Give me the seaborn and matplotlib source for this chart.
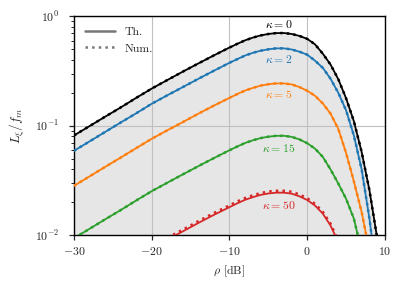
import matplotlib
matplotlib.use("Agg")
import matplotlib.pyplot as plt
import seaborn as sns
import numpy as np
from matplotlib.lines import Line2D

# rho in dB
rho = [-30, -28, -26, -24, -22, -20, -18, -16, -14, -12, -10, -9, -8, -7, -6, -5,
       -4, -3, -2, -1, 0, 1, 2, 3, 4, 5, 6, 7, 8, 9, 10]

# theory, L_xi / f_m
th_k0 = [0.0815, 0.0993, 0.121, 0.147, 0.180, 0.219, 0.262, 0.313, 0.372, 0.441, 0.520,
         0.562, 0.605, 0.641, 0.671, 0.692, 0.705, 0.706, 0.692, 0.664, 0.624, 0.556,
         0.457, 0.363, 0.266, 0.178, 0.110, 0.0575, 0.0257, 0.00933, 0.00251]
th_k2 = [0.0590, 0.0719, 0.0877, 0.107, 0.130, 0.159, 0.190, 0.226, 0.269, 0.319, 0.377,
         0.407, 0.439, 0.465, 0.486, 0.501, 0.511, 0.511, 0.499, 0.476, 0.447, 0.394,
         0.339, 0.269, 0.200, 0.138, 0.0813, 0.0398, 0.0141, 0.00398, 0.0010]
th_k5 = [0.0282, 0.0344, 0.0420, 0.0511, 0.0624, 0.0760, 0.0908, 0.108, 0.129, 0.153, 0.180,
         0.195, 0.210, 0.222, 0.233, 0.240, 0.244, 0.244, 0.239, 0.226, 0.209, 0.188,
         0.160, 0.129, 0.0933, 0.0562, 0.0309, 0.0162, 0.00708, 0.00251, 0.00079]
th_k15 = [0.00935, 0.0114, 0.0139, 0.0169, 0.0207, 0.0252, 0.0301, 0.0359, 0.0427, 0.0506,
          0.0597, 0.0646, 0.0695, 0.0736, 0.0771, 0.0794, 0.0809, 0.0809, 0.0791, 0.0750,
          0.0692, 0.0617, 0.0519, 0.0398, 0.0295, 0.0214, 0.0141, 0.00708, 0.00251,
          0.00079, 0.00025]
th_k50 = [0.00282, 0.00344, 0.00420, 0.00510, 0.00624, 0.00760, 0.00908, 0.0108, 0.0129,
          0.0153, 0.0180, 0.0195, 0.0210, 0.0222, 0.0233, 0.0240, 0.0244, 0.0244, 0.0239,
          0.0226, 0.0209, 0.0186, 0.0157, 0.0122, 0.00851, 0.00501, 0.00251, 0.0008,
          0.0003, 0.0001, 0.00005]

# numerical (simulation)
num_k0 = th_k0
num_k2 = th_k2
num_k5 = th_k5
num_k15 = th_k15
num_k50 = [0.00293, 0.00358, 0.00437, 0.00530, 0.00649, 0.00790, 0.00944, 0.0112, 0.0134,
           0.0159, 0.0187, 0.0203, 0.0218, 0.0231, 0.0242, 0.0250, 0.0254, 0.0254, 0.0249,
           0.0235, 0.0217, 0.0193, 0.0163, 0.0127, 0.00885, 0.00521, 0.00261, 0.00083,
           0.00031, 0.0001, 0.00005]

kappas = [0, 2, 5, 15, 50]
colors = ["black", "#1f77b4", "#ff7f0e", "#2ca02c", "#d62728"]
label_y = [0.845, 0.408, 0.195, 0.0626, 0.0188]

sns.set_style("ticks")
plt.rcParams["font.family"] = "serif"
plt.rcParams["font.serif"] = ["cmr10"]
plt.rcParams["mathtext.fontset"] = "cm"
plt.rcParams["axes.formatter.use_mathtext"] = True
plt.rcParams["font.size"] = 8.5

fig = plt.figure(figsize=(4.05, 2.91), dpi=100)
ax = fig.add_axes([0.1827, 0.1924, 0.7679, 0.7509])

ax.fill_between(rho, 1e-4, th_k0, color="#e6e6e6", lw=0, zorder=1)

th_all = [th_k0, th_k2, th_k5, th_k15, th_k50]
num_all = [num_k0, num_k2, num_k5, num_k15, num_k50]
for th, num, c in zip(th_all, num_all, colors):
    sns.lineplot(x=rho, y=th, color=c, lw=1.3, ax=ax, zorder=3)
    sns.lineplot(x=rho, y=num, color=c, lw=1.8, linestyle=":", ax=ax, zorder=4)

for k, c, ly in zip(kappas, colors, label_y):
    ax.text(-3.7, ly, r"$\kappa = %d$" % k, color=c, ha="center", va="center",
            fontsize=8.5, zorder=5)

ax.set_yscale("log")
ax.set_xlim(-30, 10)
ax.set_ylim(1e-2, 1)
ax.set_xticks([-30, -20, -10, 0, 10])
ax.set_axisbelow("line")
ax.grid(True, which="major", color="#c0c0c0", lw=0.8)
ax.tick_params(which="major", direction="out", length=3.5, width=0.9)
ax.tick_params(axis="y", which="major", pad=7)
ax.tick_params(which="minor", direction="out", length=2, width=0.7)
for s in ax.spines.values():
    s.set_color("black")
    s.set_linewidth(1.0)

ax.set_xlabel(r"$\rho$ [dB]", labelpad=5)
ax.set_ylabel(r"$L_\xi / f_m$", fontsize=9.5, labelpad=6)

handles = [Line2D([], [], color="#777777", lw=1.8),
           Line2D([], [], color="#777777", lw=1.8, linestyle=":")]
ax.legend(handles, ["Th.", "Num."], loc="upper left", frameon=False,
          handlelength=2.6, fontsize=8.5)

fig.savefig("out.png", dpi=100)
